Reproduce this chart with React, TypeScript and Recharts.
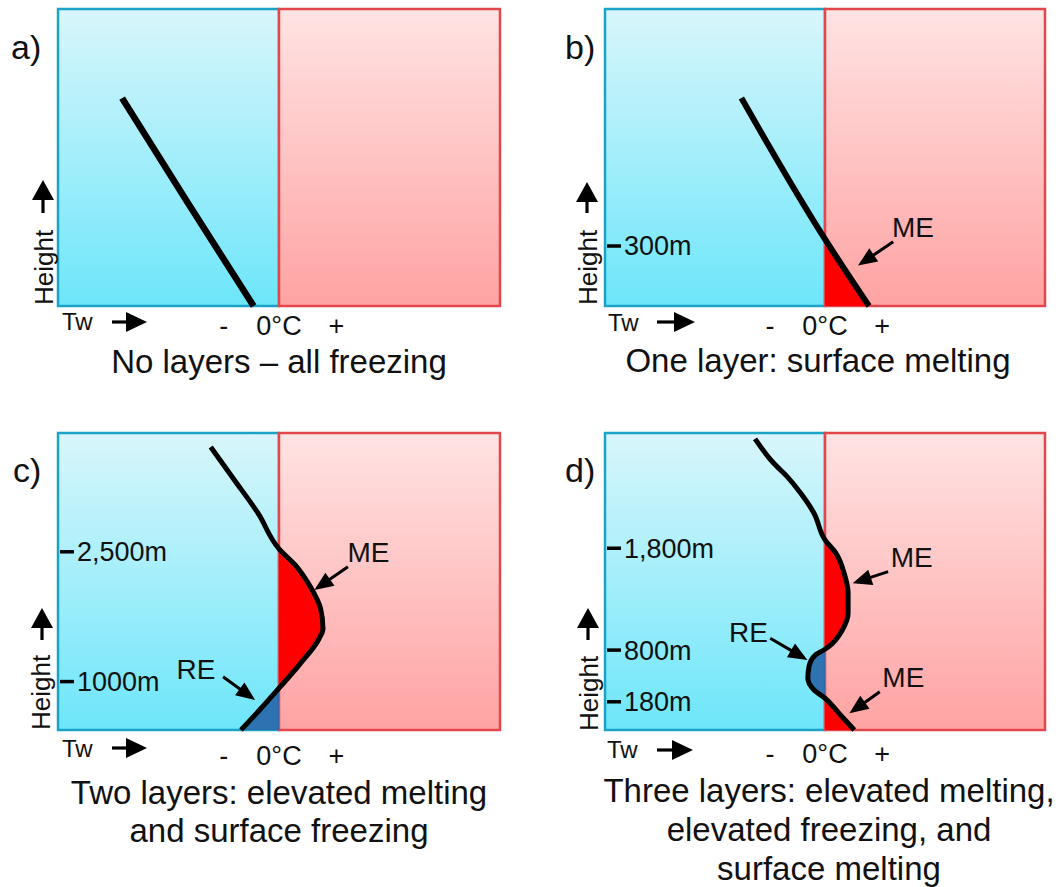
import React from 'react';
import {
  ComposedChart,
  Line,
  Area,
  XAxis,
  YAxis,
  ReferenceArea,
  ReferenceLine,
  ReferenceDot,
} from 'recharts';

const FONT = '"Liberation Sans", Arial, Helvetica, sans-serif';
const INK = '#111';

// [label, text Tw, text height, arrow from Tw, from height, arrow to Tw, to height]
type Note = [string, number, number, number, number, number, number];

// Tw axis: 0 = 0°C, schematic units (-10 .. 10); height axis schematic (0 .. 100)
const twTicks = [-2.5, 0, 2.6];
const twTickLabels = ['-', '0°C', '+'];

// a) No layers – all freezing
const heightsA = [70, 35, 0];
const twA = [-7.1, -4.15, -1.15];

// b) One layer: surface melting
const heightsB = [70, 22.5, 0];
const twB = [-3.8, 0, 2.0];
const meB = [[0, 22.5]];
const heightTicksB = [20.2];
const heightLabelsB = ['300m'];
const notesB: Note[] = [['ME', 4.0, 26.6, 3.1, 21.6, 1.5, 13.6]];

// c) Two layers: elevated melting and surface freezing
const heightsC = [95.3, 84.2, 73.0, 61.0, 55.5, 48.2, 40.9, 34.1, 30.7, 21.7, 14.1, 6.9, 0];
const twC = [-3.09, -2.02, -0.95, 0, 0.74, 1.42, 1.88, 1.99, 1.81, 0.89, 0, -0.86, -1.72];
const meC = [[14.1, 61.0]];
const reC = [[0, 14.1]];
const heightTicksC = [60.0, 16.3];
const heightLabelsC = ['2,500m', '1000m'];
const notesC: Note[] = [
  ['ME', 4.05, 59.8, 3.12, 55.0, 1.6, 47.1],
  ['RE', -3.76, 20.5, -2.53, 17.9, -1.08, 10.1],
];

// d) Three layers
const heightsD = [98.0, 89.9, 85.4, 79.8, 73.0, 64.0, 59.6, 52.8, 46.1, 39.3, 33.7, 29.2, 27.2, 25.3, 21.3, 17.4, 13.5, 10.7, 5.6, 0];
const twD = [-3.18, -2.34, -1.73, -1.11, -0.5, 0, 0.49, 0.87, 1.05, 1.05, 0.79, 0.34, 0, -0.43, -0.73, -0.78, -0.5, 0, 0.64, 1.33];
const meD = [[27.2, 64.0], [0, 10.7]];
const reD = [[10.7, 27.2]];
const heightTicksD = [61.2, 26.9, 9.5];
const heightLabelsD = ['1,800m', '800m', '180m'];
const notesD: Note[] = [
  ['ME', 3.94, 58.1, 2.87, 53.3, 1.26, 49.4],
  ['RE', -3.48, 32.8, -2.49, 30.9, -0.8, 23.6],
  ['ME', 3.56, 17.7, 2.49, 12.9, 1.11, 5.6],
];

const inLayer = (h: number, layers: number[][]) =>
  layers.some(([lo, hi]) => h >= lo - 1e-9 && h <= hi + 1e-9);

const Arrow = ({ x1, y1, x2, y2, w = 3, head = 18, half = 9 }: any) => {
  const dx = x2 - x1;
  const dy = y2 - y1;
  const len = Math.hypot(dx, dy) || 1;
  const ux = dx / len;
  const uy = dy / len;
  const bx = x2 - ux * head;
  const by = y2 - uy * head;
  const px = -uy;
  const py = ux;
  return (
    <g>
      <line x1={x1} y1={y1} x2={bx + ux} y2={by + uy} stroke="#000" strokeWidth={w} />
      <polygon
        points={`${x2},${y2} ${bx + px * half},${by + py * half} ${bx - px * half},${by - py * half}`}
        fill="#000"
      />
    </g>
  );
};

interface Layout {
  id: string;
  left: number;
  top: number;
  width: number;
  height: number;
  plot: { l: number; t: number; r: number; b: number };
  letter: string;
  letterPos: [number, number];
  heightPos: [number, number];
  heightArrow: [number, number, number];
  twPos: [number, number];
  twArrow: [number, number, number];
  tickY: number;
  caption: string[];
  captionX: number;
  captionY: number[];
  lineWidth: number;
}

interface PanelProps {
  layout: Layout;
  heights: number[];
  tw: number[];
  me?: number[][];
  re?: number[][];
  hTicks?: number[];
  hLabels?: string[];
  notes?: Note[];
}

const Panel = ({ layout, heights, tw, me = [], re = [], hTicks = [], hLabels = [], notes = [] }: PanelProps) => {
  const { id, plot, width, height } = layout;
  const rows = heights.map((h, i) => ({
    h,
    t: tw[i],
    me: inLayer(h, me) ? tw[i] : null,
    re: inLayer(h, re) ? tw[i] : null,
  }));

  const heightTick = (p: any) => {
    const label = hLabels[hTicks.indexOf(p.payload.value)];
    return (
      <g>
        <line x1={plot.l + 2} x2={plot.l + 16} y1={p.y} y2={p.y} stroke="#000" strokeWidth={3.5} />
        <text x={plot.l + 19} y={p.y} dy="0.35em" fontSize={27} fontFamily={FONT} fill={INK}>
          {label}
        </text>
      </g>
    );
  };

  const twTick = (p: any) => (
    <text x={p.x} y={layout.tickY} textAnchor="middle" fontSize={27} fontFamily={FONT} fill={INK}>
      {twTickLabels[twTicks.indexOf(p.payload.value)]}
    </text>
  );

  const [hx, hTail, hTip] = layout.heightArrow;
  const [tx1, tx2, ty] = layout.twArrow;

  return (
    <div style={{ position: 'absolute', left: layout.left, top: layout.top }}>
      <ComposedChart
        layout="vertical"
        width={width}
        height={height}
        data={rows}
        margin={{ top: plot.t, right: width - plot.r, bottom: height - plot.b - 30, left: plot.l - 10 }}
      >
        <defs>
          <linearGradient id={`${id}-cold`} x1="0" y1="0" x2="0" y2="1">
            <stop offset="0%" stopColor="#d9f6fb" />
            <stop offset="100%" stopColor="#6de6fa" />
          </linearGradient>
          <linearGradient id={`${id}-warm`} x1="0" y1="0" x2="0" y2="1">
            <stop offset="0%" stopColor="#ffe3e3" />
            <stop offset="100%" stopColor="#ffa3a3" />
          </linearGradient>
        </defs>
        <ReferenceArea
          x1={-10}
          x2={0}
          y1={0}
          y2={100}
          fill={`url(#${id}-cold)`}
          fillOpacity={1}
          stroke="#1ba3c6"
          strokeWidth={2.5}
          zIndex={-100}
        />
        <ReferenceArea
          x1={0}
          x2={10}
          y1={0}
          y2={100}
          fill={`url(#${id}-warm)`}
          fillOpacity={1}
          stroke="#e2474b"
          strokeWidth={2.5}
          zIndex={-90}
        />
        {me.length > 0 && (
          <Area
            dataKey="me"
            type="monotone"
            baseValue={0}
            fill="#ff0000"
            fillOpacity={1}
            stroke="none"
            dot={false}
            activeDot={false}
            isAnimationActive={false}
          />
        )}
        {re.length > 0 && (
          <Area
            dataKey="re"
            type="monotone"
            baseValue={0}
            fill="#2a6cad"
            fillOpacity={0.95}
            stroke="none"
            dot={false}
            activeDot={false}
            isAnimationActive={false}
          />
        )}
        <Line
          dataKey="t"
          type="monotone"
          stroke="#000"
          strokeWidth={layout.lineWidth}
          dot={false}
          activeDot={false}
          isAnimationActive={false}
        />
        {notes.map((n, i) => (
          <ReferenceLine
            key={`arrow-${i}`}
            segment={[
              { x: n[3], y: n[4] },
              { x: n[5], y: n[6] },
            ]}
            shape={(p: any) => <Arrow x1={p.x1} y1={p.y1} x2={p.x2} y2={p.y2} w={3} head={19} half={8} />}
          />
        ))}
        {notes.map((n, i) => (
          <ReferenceDot
            key={`note-${i}`}
            x={n[1]}
            y={n[2]}
            r={0}
            shape={(p: any) => (
              <text x={p.cx} y={p.cy} dy="0.35em" textAnchor="middle" fontSize={28} fontFamily={FONT} fill={INK}>
                {n[0]}
              </text>
            )}
          />
        ))}
        <XAxis
          type="number"
          domain={[-10, 10]}
          ticks={twTicks}
          interval={0}
          axisLine={false}
          tickLine={false}
          height={30}
          tick={twTick}
        />
        <YAxis
          type="number"
          dataKey="h"
          domain={[0, 100]}
          reversed
          ticks={hTicks.length ? hTicks : undefined}
          interval={0}
          width={10}
          axisLine={false}
          tickLine={false}
          tick={hTicks.length ? heightTick : false}
        />

        <text x={layout.letterPos[0]} y={layout.letterPos[1]} fontSize={34} fontFamily={FONT} fill={INK}>
          {layout.letter}
        </text>
        <text
          transform={`translate(${layout.heightPos[0]},${layout.heightPos[1]}) rotate(-90)`}
          fontSize={26}
          fontFamily={FONT}
          fill={INK}
        >
          Height
        </text>
        <Arrow x1={hx} y1={hTail} x2={hx} y2={hTip} w={3.2} head={20} half={11} />
        <text x={layout.twPos[0]} y={layout.twPos[1]} fontSize={24} fontFamily={FONT} fill={INK}>
          Tw
        </text>
        <Arrow x1={tx1} y1={ty} x2={tx2} y2={ty} w={3.2} head={21} half={10} />
        {layout.caption.map((line, i) => (
          <text
            key={`cap-${i}`}
            x={layout.captionX}
            y={layout.captionY[i]}
            textAnchor="middle"
            fontSize={33}
            fontFamily={FONT}
            fill={INK}
          >
            {line}
          </text>
        ))}
      </ComposedChart>
    </div>
  );
};

const layoutA: Layout = {
  id: 'pa',
  left: 0,
  top: 0,
  width: 530,
  height: 400,
  plot: { l: 58, t: 9, r: 500, b: 306 },
  letter: 'a)',
  letterPos: [11, 59],
  heightPos: [53, 305],
  heightArrow: [43, 213, 180],
  twPos: [62, 330],
  twArrow: [112, 147, 322],
  tickY: 335,
  caption: ['No layers – all freezing'],
  captionX: 279,
  captionY: [373],
  lineWidth: 6.5,
};

const layoutB: Layout = {
  id: 'pb',
  left: 530,
  top: 0,
  width: 529,
  height: 400,
  plot: { l: 75, t: 9, r: 515, b: 306 },
  letter: 'b)',
  letterPos: [35, 59],
  heightPos: [67, 305],
  heightArrow: [57, 213, 182],
  twPos: [78, 331],
  twArrow: [127, 165, 322],
  tickY: 335,
  caption: ['One layer: surface melting'],
  captionX: 288,
  captionY: [372],
  lineWidth: 6,
};

const layoutC: Layout = {
  id: 'pc',
  left: 0,
  top: 400,
  width: 530,
  height: 487,
  plot: { l: 58, t: 33, r: 500, b: 330 },
  letter: 'c)',
  letterPos: [13, 82],
  heightPos: [50, 330],
  heightArrow: [42, 240, 208],
  twPos: [62, 357],
  twArrow: [112, 147, 348],
  tickY: 365,
  caption: ['Two layers: elevated melting', 'and surface freezing'],
  captionX: 279,
  captionY: [403.5, 441.5],
  lineWidth: 5,
};

const layoutD: Layout = {
  id: 'pd',
  left: 530,
  top: 400,
  width: 529,
  height: 487,
  plot: { l: 75, t: 33, r: 515, b: 330 },
  letter: 'd)',
  letterPos: [35, 82],
  heightPos: [68, 331],
  heightArrow: [58, 240, 208],
  twPos: [77, 358],
  twArrow: [127, 163, 350],
  tickY: 363,
  caption: ['Three layers: elevated melting,', 'elevated freezing, and', 'surface melting'],
  captionX: 299,
  captionY: [402, 441, 480],
  lineWidth: 5,
};

export default function App() {
  return (
    <div
      style={{
        position: 'absolute',
        left: 0,
        top: 0,
        width: 1059,
        height: 887,
        overflow: 'hidden',
        background: '#fff',
      }}
    >
      <Panel layout={layoutA} heights={heightsA} tw={twA} />
      <Panel
        layout={layoutB}
        heights={heightsB}
        tw={twB}
        me={meB}
        hTicks={heightTicksB}
        hLabels={heightLabelsB}
        notes={notesB}
      />
      <Panel
        layout={layoutC}
        heights={heightsC}
        tw={twC}
        me={meC}
        re={reC}
        hTicks={heightTicksC}
        hLabels={heightLabelsC}
        notes={notesC}
      />
      <Panel
        layout={layoutD}
        heights={heightsD}
        tw={twD}
        me={meD}
        re={reD}
        hTicks={heightTicksD}
        hLabels={heightLabelsD}
        notes={notesD}
      />
    </div>
  );
}
